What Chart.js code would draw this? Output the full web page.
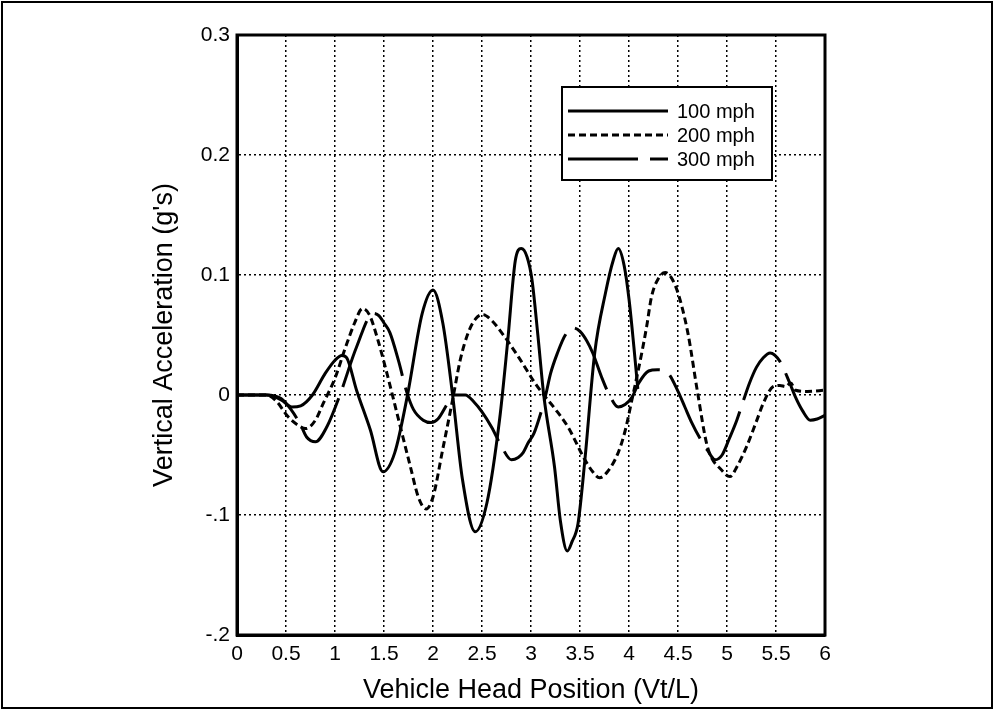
<!DOCTYPE html>
<html>
<head>
<meta charset="utf-8">
<script src="https://cdn.jsdelivr.net/npm/chart.js@4.4.0/dist/chart.umd.min.js"></script>
<style>
  body{margin:0;background:#fff;}
  canvas{display:block;}
</style>
</head>
<body>
<canvas id="accChart" width="994" height="710"></canvas>
<script>
// values
const xTicks = [0,0.5,1,1.5,2,2.5,3,3.5,4,4.5,5,5.5,6];
const xTickLabels = ['0','0.5','1','1.5','2','2.5','3','3.5','4','4.5','5','5.5','6'];
const yTicks = [-0.2,-0.1,0,0.1,0.2,0.3];
const yTickLabels = ['-.2','-.1','0','0.1','0.2','0.3'];
const seriesNames = ['100 mph','200 mph','300 mph'];

const x100 = [0,0.2,0.3,0.45,0.56,0.65,0.77,0.9,1.0,1.07,1.12,1.22,1.36,1.49,1.61,1.74,1.89,2.0,2.1,2.2,2.3,2.43,2.55,2.68,2.76,2.84,2.9,2.96,3.01,3.07,3.13,3.24,3.3,3.37,3.42,3.48,3.55,3.65,3.76,3.84,3.89,3.95,4.0,4.05,4.09];
const y100 = [0,0,0,-0.004,-0.010,-0.009,0,0.018,0.029,0.033,0.031,0.004,-0.029,-0.064,-0.048,0,0.068,0.0875,0.06,0,-0.07,-0.114,-0.09,-0.02,0.043,0.112,0.122,0.115,0.096,0.05,0,-0.06,-0.105,-0.13,-0.122,-0.107,-0.054,0.035,0.085,0.1125,0.122,0.108,0.08,0.04,0.005];

const x200 = [0,0.3,0.4,0.52,0.62,0.7,0.8,0.88,1.0,1.1,1.2,1.28,1.35,1.43,1.53,1.65,1.77,1.85,1.93,2.0,2.1,2.2,2.28,2.36,2.44,2.51,2.6,2.7,2.87,3.04,3.14,3.25,3.38,3.55,3.63,3.7,3.78,3.89,3.96,4.03,4.13,4.18,4.23,4.3,4.37,4.43,4.5,4.6,4.7,4.8,4.95,5.03,5.1,5.2,5.3,5.37,5.47,5.54,5.6,5.65,5.7,5.82,6.0];
const y200 = [0,0,-0.005,-0.018,-0.025,-0.028,-0.021,-0.007,0.014,0.038,0.06,0.072,0.067,0.048,0.018,-0.021,-0.06,-0.085,-0.095,-0.085,-0.045,-0.004,0.03,0.052,0.064,0.067,0.062,0.052,0.032,0.01,-0.001,-0.012,-0.027,-0.054,-0.064,-0.069,-0.064,-0.048,-0.03,-0.004,0.035,0.057,0.082,0.097,0.102,0.098,0.085,0.052,0.002,-0.043,-0.063,-0.068,-0.06,-0.043,-0.022,-0.007,0.007,0.008,0.007,0.01,0.004,0.003,0.004];

const x300 = [0,0.3,0.45,0.55,0.65,0.71,0.8,0.92,1.05,1.22,1.39,1.45,1.5,1.56,1.65,1.73,1.8,1.9,1.98,2.05,2.15,2.22,2.33,2.42,2.5,2.6,2.7,2.8,2.87,2.92,2.97,3.03,3.1,3.15,3.2,3.27,3.35,3.43,3.5,3.57,3.63,3.72,3.8,3.89,3.96,4.03,4.1,4.2,4.29,4.4,4.5,4.57,4.64,4.73,4.8,4.88,4.95,5.02,5.1,5.17,5.23,5.3,5.37,5.44,5.54,5.64,5.7,5.77,5.85,5.92,6.0];
const y300 = [0,0,-0.003,-0.012,-0.025,-0.035,-0.039,-0.026,0,0.04,0.068,0.066,0.06,0.052,0.028,0.003,-0.012,-0.021,-0.023,-0.02,-0.007,0,0,-0.006,-0.014,-0.027,-0.043,-0.054,-0.052,-0.048,-0.04,-0.032,-0.015,0,0.018,0.035,0.05,0.056,0.053,0.045,0.035,0.015,0,-0.01,-0.008,-0.002,0.01,0.02,0.021,0.018,0.003,-0.01,-0.023,-0.037,-0.046,-0.054,-0.05,-0.037,-0.021,-0.004,0.01,0.023,0.031,0.035,0.028,0.01,-0.002,-0.013,-0.021,-0.02,-0.017];

const pts = (xs, ys) => xs.map((x,i)=>({x, y:ys[i]}));
const FONT = '"Liberation Sans", Arial, sans-serif';

// box round the axes, the legend and the page frame
const framePlugin = {
  id:'frame',
  afterDraw(chart){
    const {ctx, chartArea:a} = chart;
    ctx.save();
    ctx.strokeStyle = '#000';
    ctx.lineWidth = 3;
    ctx.strokeRect(a.left, a.top, a.right-a.left, a.bottom-a.top);
    // legend
    const lx = 562, ly = 87, lw = 210, lh = 93;
    ctx.fillStyle = '#fff';
    ctx.fillRect(lx, ly, lw, lh);
    ctx.lineWidth = 2;
    ctx.strokeRect(lx, ly, lw, lh);
    chart.data.datasets.forEach((ds,i)=>{
      const y = ly + 24 + i*24;
      ctx.beginPath();
      ctx.setLineDash(ds.borderDash || []);
      ctx.lineWidth = ds.borderWidth;
      ctx.moveTo(lx+6, y); ctx.lineTo(lx+106, y);
      ctx.stroke();
      ctx.setLineDash([]);
      ctx.fillStyle = '#000';
      ctx.font = '20px ' + FONT;
      ctx.textBaseline = 'middle';
      ctx.fillText(ds.label, lx+115, y+1);
    });
    // page border
    ctx.lineWidth = 2;
    ctx.strokeRect(2, 2, chart.width-4, chart.height-4);
    ctx.restore();
  }
};

const ctx = document.getElementById('accChart').getContext('2d');
const accChart = new Chart(ctx, {
  type:'line',
  data:{datasets:[
    {label:seriesNames[0], data:pts(x100,y100), borderColor:'#000', borderWidth:3},
    {label:seriesNames[1], data:pts(x200,y200), borderColor:'#000', borderWidth:3, borderDash:[7,4]},
    {label:seriesNames[2], data:pts(x300,y300), borderColor:'#000', borderWidth:3, borderDash:[70,12]}
  ]},
  options:{
    responsive:false, animation:false,
    layout:{padding:{top:35, right:169, left:0, bottom:0}},
    elements:{point:{radius:0}, line:{cubicInterpolationMode:'monotone', fill:false}},
    plugins:{legend:{display:false}, tooltip:{enabled:false}},
    scales:{
      x:{
        type:'linear', min:0, max:6,
        afterBuildTicks: s => { s.ticks = xTicks.map(v=>({value:v})); },
        afterFit: s => { s.height = 75; },
        ticks:{color:'#000', padding:7, maxRotation:0, autoSkip:false, font:{family:FONT, size:21},
          callback:v => xTickLabels[xTicks.indexOf(v)]},
        grid:{color:'#000', lineWidth:1.5, drawTicks:false},
        border:{display:true, color:'#000', width:3, dash:[2,3]},
        title:{display:true, text:'Vehicle Head Position (Vt/L)', color:'#000', font:{family:FONT, size:27, lineHeight:1.1}, padding:{top:0, bottom:5}}
      },
      y:{
        min:-0.2, max:0.3,
        afterBuildTicks: s => { s.ticks = yTicks.map(v=>({value:v})); },
        afterFit: s => { s.width = 237; },
        ticks:{color:'#000', padding:7, font:{family:FONT, size:21},
          callback:v => yTickLabels[yTicks.indexOf(v)]},
        grid:{color:'#000', lineWidth:1.5, drawTicks:false},
        border:{display:true, color:'#000', width:3, dash:[2,3]},
        title:{display:true, text:"Vertical Acceleration (g's)", color:'#000', font:{family:FONT, size:27, lineHeight:1.1}, padding:{top:150, bottom:0}}
      }
    }
  },
  plugins:[framePlugin]
});
</script>
</body>
</html>
